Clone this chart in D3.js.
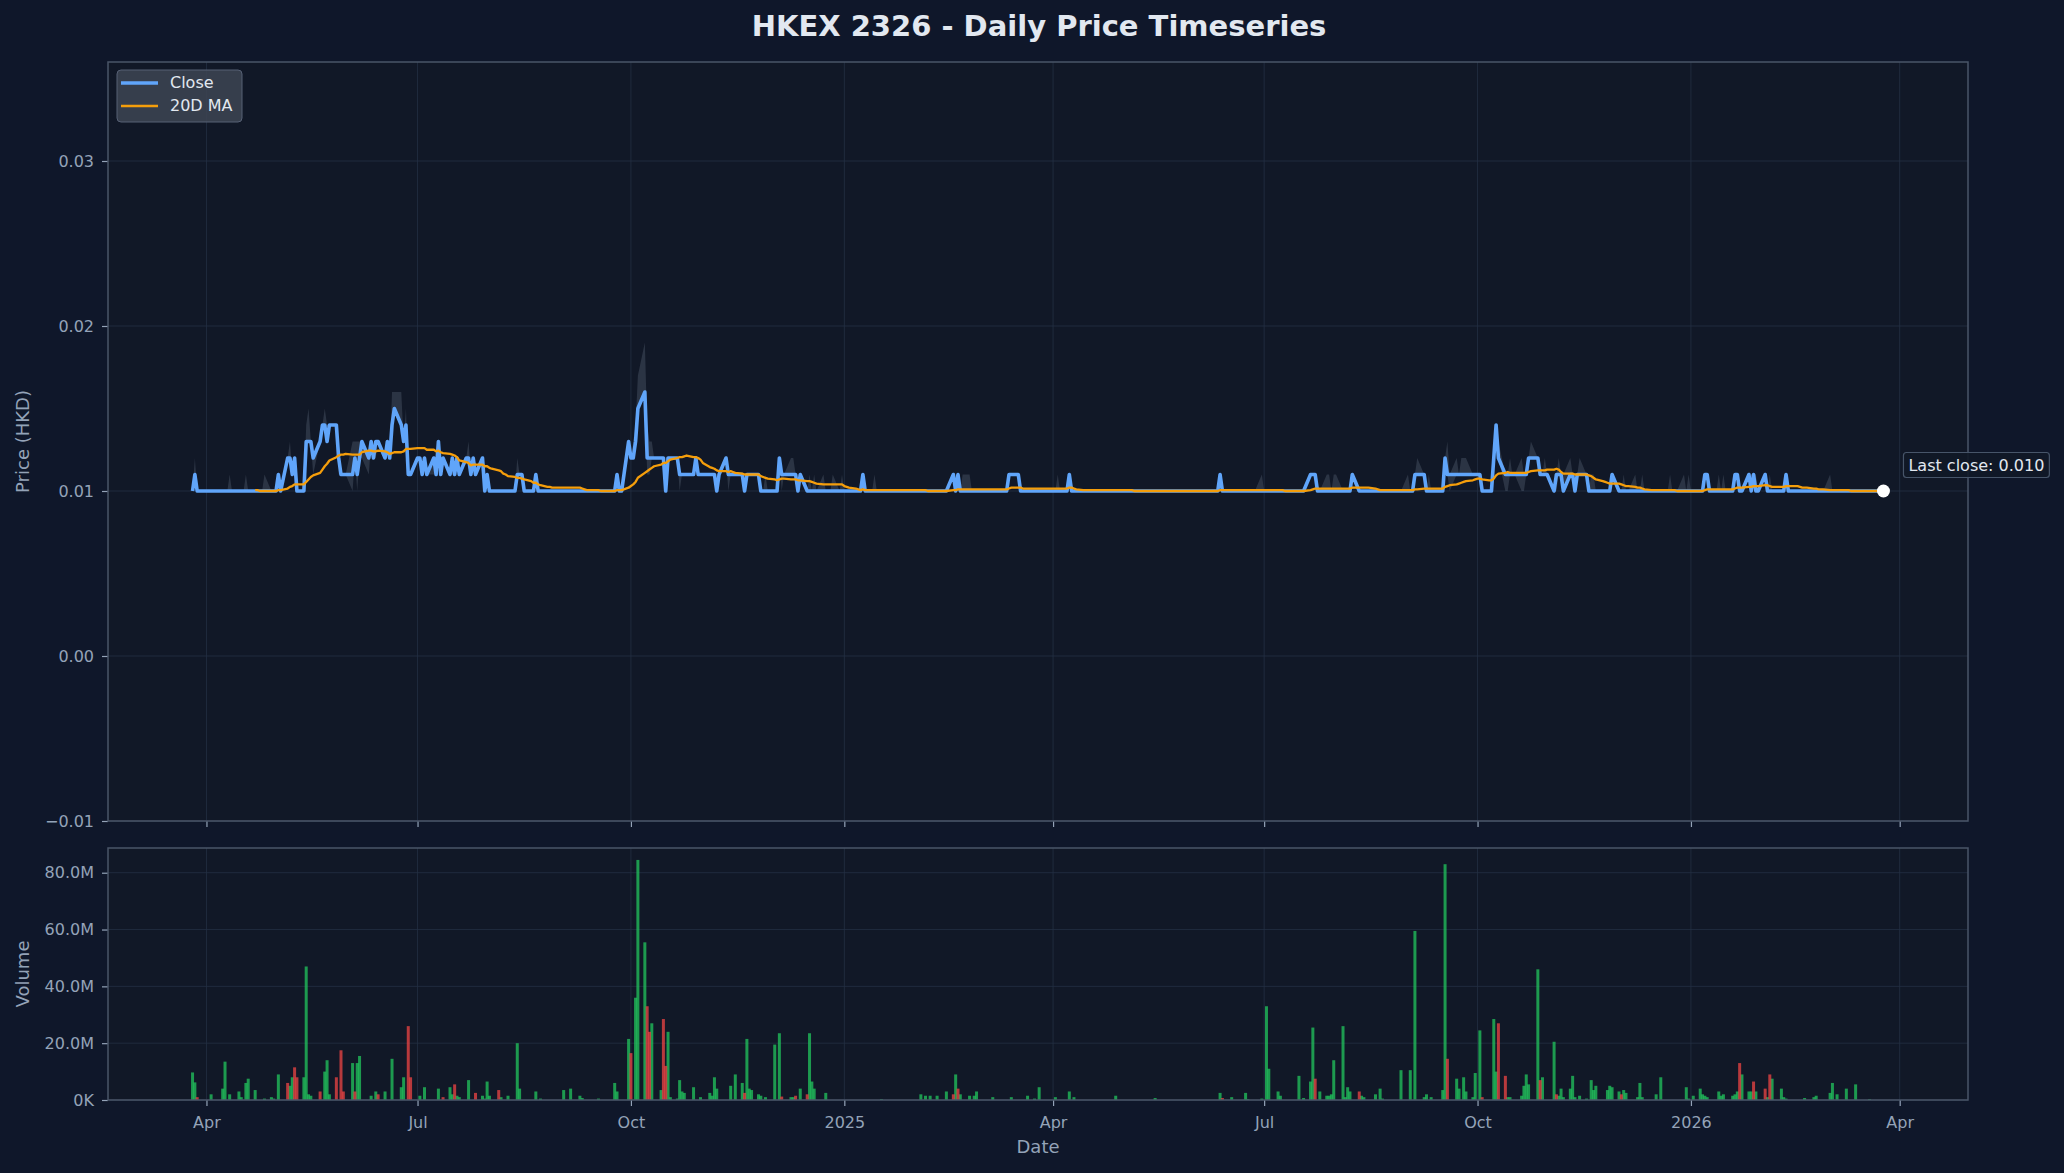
<!DOCTYPE html>
<html><head><meta charset="utf-8">
<script src="https://cdn.jsdelivr.net/npm/d3@7"></script>
<style>
html,body{margin:0;padding:0;background:#0f172a;}
svg{display:block}
text{font-family:"DejaVu Sans",sans-serif}
</style></head>
<body><svg id="chart" width="2064" height="1173"></svg>
<script>
// ---------------- DATA ----------------
const firstDay = "2024-03-26";
const lastDay = "2026-03-25";
// close price change points [date, close HKD] (value holds until next change)
const closeSteps = [
["2024-03-26",0.010],["2024-03-27",0.011],["2024-03-28",0.010],
["2024-05-02",0.011],["2024-05-03",0.010],["2024-05-06",0.012],["2024-05-08",0.011],["2024-05-09",0.012],["2024-05-10",0.010],
["2024-05-14",0.013],["2024-05-17",0.012],["2024-05-20",0.013],["2024-05-21",0.014],["2024-05-23",0.013],["2024-05-24",0.014],
["2024-05-28",0.012],["2024-05-29",0.011],["2024-06-04",0.012],["2024-06-05",0.011],["2024-06-06",0.012],["2024-06-07",0.013],
["2024-06-10",0.012],["2024-06-11",0.013],["2024-06-12",0.012],["2024-06-13",0.013],["2024-06-17",0.012],["2024-06-18",0.013],
["2024-06-19",0.012],["2024-06-20",0.014],["2024-06-21",0.015],["2024-06-24",0.014],["2024-06-25",0.013],["2024-06-26",0.014],
["2024-06-27",0.011],["2024-07-01",0.012],["2024-07-03",0.011],["2024-07-04",0.012],["2024-07-05",0.011],["2024-07-08",0.012],
["2024-07-09",0.011],["2024-07-10",0.013],["2024-07-11",0.011],["2024-07-12",0.012],["2024-07-15",0.011],["2024-07-16",0.012],
["2024-07-17",0.011],["2024-07-18",0.012],["2024-07-19",0.011],["2024-07-22",0.012],["2024-07-24",0.011],["2024-07-25",0.012],
["2024-07-26",0.011],["2024-07-29",0.012],["2024-07-30",0.010],["2024-07-31",0.011],["2024-08-01",0.010],["2024-08-13",0.011],
["2024-08-16",0.010],["2024-08-21",0.011],["2024-08-22",0.010],["2024-09-25",0.011],["2024-09-26",0.010],["2024-09-30",0.013],
["2024-10-01",0.012],["2024-10-03",0.013],["2024-10-04",0.015],["2024-10-07",0.016],["2024-10-08",0.012],["2024-10-16",0.010],
["2024-10-17",0.012],["2024-10-22",0.011],["2024-10-29",0.012],["2024-10-30",0.011],["2024-11-07",0.010],["2024-11-08",0.011],
["2024-11-11",0.012],["2024-11-12",0.011],["2024-11-19",0.010],["2024-11-20",0.011],["2024-11-26",0.010],["2024-12-04",0.012],
["2024-12-05",0.011],["2024-12-12",0.010],["2024-12-13",0.011],["2024-12-16",0.010],
["2025-01-09",0.011],["2025-01-10",0.010],["2025-02-17",0.011],["2025-02-18",0.010],["2025-02-19",0.011],["2025-02-20",0.010],
["2025-03-13",0.011],["2025-03-18",0.010],["2025-04-08",0.011],["2025-04-09",0.010],["2025-06-12",0.011],["2025-06-13",0.010],
["2025-07-21",0.011],["2025-07-24",0.010],["2025-08-08",0.011],["2025-08-11",0.010],["2025-09-04",0.011],["2025-09-09",0.010],
["2025-09-17",0.012],["2025-09-18",0.011],["2025-10-03",0.010],["2025-10-08",0.012],["2025-10-09",0.014],["2025-10-10",0.012],
["2025-10-13",0.011],["2025-10-23",0.012],["2025-10-28",0.011],["2025-11-03",0.010],["2025-11-04",0.011],["2025-11-07",0.010],
["2025-11-10",0.011],["2025-11-12",0.010],["2025-11-13",0.011],["2025-11-18",0.010],["2025-11-28",0.011],["2025-12-01",0.010],
["2026-01-07",0.011],["2026-01-09",0.010],["2026-01-20",0.011],["2026-01-22",0.010],["2026-01-26",0.011],["2026-01-27",0.010],
["2026-01-28",0.011],["2026-01-29",0.010],["2026-02-02",0.011],["2026-02-03",0.010],["2026-02-11",0.011],["2026-02-12",0.010]
];
// daily highs above close [date, high]
const highs = [
["2024-03-27",0.012],["2024-04-11",0.011],["2024-04-18",0.011],["2024-04-26",0.011],["2024-05-02",0.011],["2024-05-07",0.013],
["2024-05-14",0.014],["2024-05-15",0.015],["2024-05-22",0.015],["2024-05-23",0.014],["2024-05-27",0.014],["2024-06-03",0.013],
["2024-06-04",0.013],["2024-06-05",0.013],["2024-06-06",0.013],["2024-06-20",0.016],["2024-06-21",0.016],["2024-06-24",0.016],
["2024-06-26",0.015],["2024-07-10",0.013],["2024-07-23",0.013],["2024-08-13",0.012],["2024-09-30",0.013],["2024-10-02",0.013],
["2024-10-03",0.014],["2024-10-04",0.017],["2024-10-07",0.019],["2024-10-08",0.014],["2024-10-09",0.013],["2024-10-10",0.013],
["2024-10-14",0.012],["2024-10-15",0.012],["2024-11-11",0.012],["2024-11-28",0.011],["2024-12-04",0.012],["2024-12-09",0.012],
["2024-12-10",0.012],["2024-12-17",0.011],["2024-12-19",0.011],["2024-12-23",0.011],["2024-12-27",0.011],["2024-12-31",0.011],
["2025-01-14",0.011],["2025-02-21",0.011],["2025-02-24",0.011],["2025-04-03",0.011],["2025-06-30",0.011],["2025-07-28",0.011],
["2025-07-29",0.011],["2025-07-31",0.011],["2025-08-01",0.011],["2025-09-01",0.011],["2025-09-05",0.012],["2025-09-10",0.011],
["2025-09-18",0.013],["2025-09-22",0.012],["2025-09-24",0.012],["2025-09-25",0.012],["2025-09-26",0.012],["2025-10-09",0.014],
["2025-10-10",0.013],["2025-10-15",0.012],["2025-10-20",0.012],["2025-10-24",0.013],["2025-10-30",0.012],["2025-11-05",0.012],
["2025-11-07",0.011],["2025-11-10",0.012],["2025-11-14",0.012],["2025-11-17",0.011],["2025-11-19",0.011],["2025-11-20",0.011],
["2025-12-03",0.011],["2025-12-08",0.011],["2025-12-11",0.011],["2025-12-23",0.011],["2025-12-29",0.011],["2025-12-31",0.011],
["2026-01-13",0.011],["2026-01-15",0.011],["2026-01-27",0.011],["2026-01-29",0.011],["2026-02-04",0.011],["2026-03-02",0.011]
];
// daily lows below close [date, low]
const lows = [
["2024-05-17",0.011],["2024-05-28",0.011],["2024-06-03",0.010],["2024-06-05",0.010],["2024-06-07",0.012],["2024-06-10",0.011],
["2024-06-13",0.012],["2024-06-27",0.011],["2024-07-08",0.011],["2024-07-16",0.011],["2024-10-08",0.011],["2024-10-09",0.011],
["2024-10-22",0.010],["2024-11-12",0.010],["2024-12-05",0.010],["2025-09-19",0.010],["2025-10-13",0.010],["2025-10-14",0.010],
["2025-10-20",0.010],["2025-10-21",0.010],["2025-11-04",0.010]
];
// volume in millions of shares, up days (green) and down days (red)
const volUp = [
["2024-03-26",9.7],["2024-03-27",6.2],["2024-04-03",2.0],["2024-04-08",4.0],["2024-04-09",13.5],["2024-04-11",2.0],["2024-04-15",3.0],
["2024-04-16",1.0],["2024-04-18",6.0],["2024-04-19",7.5],["2024-04-22",3.5],["2024-04-26",0.5],["2024-04-29",1.0],["2024-04-30",0.5],
["2024-05-02",9.0],["2024-05-07",5.0],["2024-05-08",8.0],["2024-05-13",8.0],["2024-05-14",47.0],["2024-05-15",2.0],["2024-05-16",1.5],
["2024-05-22",10.0],["2024-05-23",14.0],["2024-05-24",2.0],["2024-06-03",13.0],["2024-06-05",13.0],["2024-06-06",15.5],["2024-06-11",1.5],
["2024-06-13",3.0],["2024-06-17",3.0],["2024-06-20",14.5],["2024-06-24",4.5],["2024-06-25",8.0],["2024-07-02",1.5],["2024-07-04",4.5],
["2024-07-10",4.0],["2024-07-15",4.5],["2024-07-16",2.0],["2024-07-18",1.5],["2024-07-19",1.0],["2024-07-23",7.0],["2024-07-29",1.5],
["2024-07-30",0.5],["2024-07-31",6.5],["2024-08-01",1.5],["2024-08-06",1.0],["2024-08-09",1.5],["2024-08-13",20.0],["2024-08-14",4.0],
["2024-08-21",3.0],["2024-08-23",0.5],["2024-09-02",3.5],["2024-09-05",4.0],["2024-09-09",1.5],["2024-09-10",0.7],["2024-09-17",0.5],
["2024-09-24",6.0],["2024-09-25",3.0],["2024-09-30",21.5],["2024-10-03",36.0],["2024-10-04",84.5],["2024-10-07",55.5],["2024-10-10",27.0],
["2024-10-14",3.5],["2024-10-17",24.0],["2024-10-18",1.0],["2024-10-21",0.5],["2024-10-22",7.0],["2024-10-23",3.0],["2024-10-24",2.5],
["2024-10-28",4.5],["2024-10-31",1.0],["2024-11-04",2.5],["2024-11-05",1.5],["2024-11-06",8.0],["2024-11-07",4.0],["2024-11-13",5.0],
["2024-11-15",9.0],["2024-11-18",6.0],["2024-11-20",21.5],["2024-11-21",4.0],["2024-11-22",3.5],["2024-11-25",2.0],["2024-11-26",1.5],
["2024-11-28",1.0],["2024-12-02",19.5],["2024-12-04",23.5],["2024-12-09",1.0],["2024-12-10",1.0],["2024-12-13",4.0],["2024-12-17",23.5],
["2024-12-18",6.5],["2024-12-19",4.0],["2024-12-24",2.5],
["2025-01-17",0.3],["2025-02-03",2.0],["2025-02-05",1.5],["2025-02-07",1.5],["2025-02-10",1.5],["2025-02-14",3.0],["2025-02-18",9.0],
["2025-02-20",2.0],["2025-02-24",1.5],["2025-02-26",1.5],["2025-02-27",3.0],["2025-03-06",1.0],["2025-03-14",1.0],["2025-03-21",1.5],
["2025-03-24",0.5],["2025-03-26",4.5],["2025-04-02",1.0],["2025-04-08",3.0],["2025-04-10",1.0],["2025-04-28",1.5],["2025-05-15",0.7],
["2025-06-12",2.5],["2025-06-17",1.0],["2025-06-23",2.5],["2025-06-24",0.3],["2025-06-30",0.5],["2025-07-02",33.0],["2025-07-03",11.0],
["2025-07-07",3.0],["2025-07-08",1.5],["2025-07-16",8.5],["2025-07-18",0.7],["2025-07-21",6.5],["2025-07-22",25.5],["2025-07-25",3.0],
["2025-07-28",1.5],["2025-07-29",1.5],["2025-07-30",2.0],["2025-07-31",14.0],["2025-08-04",26.0],["2025-08-05",1.0],["2025-08-06",4.5],
["2025-08-07",3.0],["2025-08-12",1.5],["2025-08-13",1.0],["2025-08-18",2.0],["2025-08-20",4.0],["2025-08-21",0.5],["2025-08-29",10.5],
["2025-09-02",10.5],["2025-09-04",59.5],["2025-09-08",1.0],["2025-09-09",2.0],["2025-09-11",1.0],["2025-09-16",3.5],["2025-09-17",83.0],
["2025-09-22",7.5],["2025-09-23",4.0],["2025-09-25",8.0],["2025-09-26",3.0],["2025-09-29",1.0],["2025-09-30",9.5],["2025-10-02",24.5],
["2025-10-08",28.5],["2025-10-09",10.0],["2025-10-14",1.0],["2025-10-15",1.0],["2025-10-20",1.5],["2025-10-21",5.0],["2025-10-22",9.0],
["2025-10-23",5.5],["2025-10-27",46.0],["2025-10-29",8.0],["2025-11-03",20.5],["2025-11-05",1.5],["2025-11-06",4.0],["2025-11-07",1.0],
["2025-11-10",4.0],["2025-11-11",8.5],["2025-11-12",1.0],["2025-11-14",1.5],["2025-11-17",0.5],["2025-11-19",7.0],["2025-11-20",3.5],
["2025-11-21",5.0],["2025-11-26",3.5],["2025-11-27",5.0],["2025-11-28",4.5],["2025-12-01",3.0],["2025-12-03",3.5],["2025-12-04",2.5],
["2025-12-09",1.0],["2025-12-10",6.0],["2025-12-11",1.0],["2025-12-17",2.0],["2025-12-19",8.0],["2025-12-30",4.5],["2025-12-31",0.5],
["2026-01-02",1.5],["2026-01-05",4.0],["2026-01-06",2.0],["2026-01-07",1.5],["2026-01-08",1.0],["2026-01-13",3.0],["2026-01-14",1.5],
["2026-01-15",2.0],["2026-01-19",1.5],["2026-01-20",2.0],["2026-01-21",3.0],["2026-01-23",9.0],["2026-01-26",3.0],["2026-01-27",3.0],
["2026-01-29",3.0],["2026-02-03",1.0],["2026-02-05",7.5],["2026-02-09",4.0],["2026-02-10",1.0],["2026-02-11",0.5],["2026-02-19",0.7],
["2026-02-23",1.0],["2026-02-24",1.5],["2026-03-02",2.5],["2026-03-03",6.0],["2026-03-05",2.0],["2026-03-09",4.0],["2026-03-13",5.5],
["2026-03-19",0.3]
];
const volDown = [
["2024-03-28",1.0],["2024-05-06",6.0],["2024-05-09",11.5],["2024-05-10",8.0],["2024-05-20",3.0],["2024-05-27",8.0],["2024-05-29",17.5],
["2024-05-30",3.0],["2024-06-04",3.0],["2024-06-14",2.0],["2024-06-27",26.0],["2024-06-28",8.0],["2024-07-12",1.0],["2024-07-17",5.5],
["2024-07-26",2.5],["2024-08-05",3.5],["2024-10-01",16.5],["2024-10-08",33.0],["2024-10-09",24.0],["2024-10-15",28.5],["2024-10-16",12.0],
["2024-11-19",2.5],["2024-12-05",1.2],["2024-12-11",1.5],["2024-12-16",2.0],
["2025-02-17",2.0],["2025-02-19",4.0],["2025-06-13",0.7],["2025-07-23",7.5],["2025-08-11",3.0],["2025-09-18",14.5],["2025-10-03",1.0],
["2025-10-10",27.0],["2025-10-13",8.5],["2025-10-28",7.0],["2025-11-04",2.0],["2025-12-02",2.0],
["2026-01-22",13.0],["2026-01-28",6.5],["2026-02-02",4.0],["2026-02-04",9.0]
];
const priceTicks = [-0.01, 0.00, 0.01, 0.02, 0.03];
const volumeTicks = [0, 20, 40, 60, 80];
const maWindow = 20;

// ---------------- BUILD ----------------
const parse = d3.utcParse("%Y-%m-%d");
const fmtKey = d3.utcFormat("%Y-%m-%d");
const days = d3.utcDay.range(parse(firstDay), d3.utcDay.offset(parse(lastDay), 1))
  .filter(d => d.getUTCDay() !== 0 && d.getUTCDay() !== 6);
const stepMap = new Map(closeSteps);
const highMap = new Map(highs);
const lowMap = new Map(lows);
let cur = closeSteps[0][1];
const series = days.map(d => {
  const k = fmtKey(d);
  if (stepMap.has(k)) cur = stepMap.get(k);
  const hi = Math.max(cur, highMap.has(k) ? highMap.get(k) : cur);
  const lo = Math.min(cur, lowMap.has(k) ? lowMap.get(k) : cur);
  return {date: d, close: cur, high: hi, low: lo};
});
series.forEach((p, i) => {
  if (i >= maWindow - 1) p.ma = d3.mean(series.slice(i - maWindow + 1, i + 1), s => s.close);
});
const bars = volUp.map(v => ({date: parse(v[0]), vol: v[1] * 1e6, up: true}))
  .concat(volDown.map(v => ({date: parse(v[0]), vol: v[1] * 1e6, up: false})));

// ---------------- LAYOUT ----------------
const W = 2064, H = 1173;
const L = 108, R = 1968;
const pTop = 62, pBot = 821, vTop = 848, vBot = 1100;
const svg = d3.select("#chart");
svg.append("rect").attr("width", W).attr("height", H).attr("fill", "#0f172a");

const t0 = days[0], t1 = days[days.length - 1];
const span = t1 - t0;
const x = d3.scaleUtc().domain([new Date(+t0 - span * 0.05), new Date(+t1 + span * 0.05)]).range([L, R]);
const yP = d3.scaleLinear().domain([-0.01, 0.036]).range([pBot, pTop]);
const yV = d3.scaleLinear().domain([0, 88.7e6]).range([vBot, vTop]);

const xTicks = x.ticks(d3.utcMonth.every(3));
const xFmt = d => d.getUTCMonth() === 0 ? d3.utcFormat("%Y")(d) : d3.utcFormat("%b")(d);

const gridCol = "#243044", spineCol = "#4a5568", tickTxt = "#94a3b8";

function panel(top, bot, yScale, yTicks, yFmt, showXLabels) {
  const g = svg.append("g");
  g.append("rect").attr("x", L).attr("y", top).attr("width", R - L).attr("height", bot - top).attr("fill", "#111827");
  g.selectAll(".vg").data(xTicks).join("line")
    .attr("x1", d => x(d)).attr("x2", d => x(d)).attr("y1", top).attr("y2", bot)
    .attr("stroke", gridCol).attr("stroke-width", 1).attr("opacity", 0.8);
  g.selectAll(".hg").data(yTicks).join("line")
    .attr("x1", L).attr("x2", R).attr("y1", d => yScale(d)).attr("y2", d => yScale(d))
    .attr("stroke", gridCol).attr("stroke-width", 1).attr("opacity", 0.8);
  const ya = g.append("g").attr("transform", `translate(${L},0)`)
    .call(d3.axisLeft(yScale).tickValues(yTicks).tickFormat(yFmt).tickSize(6).tickPadding(8));
  const xa = g.append("g").attr("transform", `translate(0,${bot})`)
    .call(d3.axisBottom(x).tickValues(xTicks).tickFormat(showXLabels ? xFmt : () => "").tickSize(6).tickPadding(11));
  [ya, xa].forEach(a => {
    a.select(".domain").remove();
    a.selectAll("line").attr("stroke", "#94a3b8").attr("stroke-width", 1.2);
    a.selectAll("text").attr("fill", tickTxt).attr("font-size", 16).attr("font-family", "DejaVu Sans");
  });
  return g;
}

// ---- price panel ----
const gp = panel(pTop, pBot, yP, priceTicks, d3.format(".2f"), false);
svg.append("clipPath").attr("id", "pc").append("rect").attr("x", L).attr("y", pTop).attr("width", R - L).attr("height", pBot - pTop);
const plot = svg.append("g").attr("clip-path", "url(#pc)");
plot.append("path").datum(series)
  .attr("d", d3.area().x(d => x(d.date)).y0(d => yP(d.low)).y1(d => yP(d.high)))
  .attr("fill", "#94a3b8").attr("opacity", 0.2);
plot.append("path").datum(series)
  .attr("d", d3.line().x(d => x(d.date)).y(d => yP(d.close)))
  .attr("fill", "none").attr("stroke", "#60a5fa").attr("stroke-width", 3.6).attr("stroke-linejoin", "round");
plot.append("path").datum(series.filter(d => d.ma !== undefined))
  .attr("d", d3.line().x(d => x(d.date)).y(d => yP(d.ma)))
  .attr("fill", "none").attr("stroke", "#f59e0b").attr("stroke-width", 2.3).attr("stroke-linejoin", "round");
svg.append("rect").attr("x", L).attr("y", pTop).attr("width", R - L).attr("height", pBot - pTop)
  .attr("fill", "none").attr("stroke", spineCol).attr("stroke-width", 1.5);

const last = series[series.length - 1];
svg.append("circle").attr("cx", x(last.date)).attr("cy", yP(last.close)).attr("r", 6.5).attr("fill", "#ffffff");
const ann = svg.append("g");
const annText = ann.append("text").attr("x", x(last.date) + 25).attr("y", yP(last.close) - 25)
  .attr("fill", "#e2e8f0").attr("font-size", 16).attr("dominant-baseline", "middle")
  .text("Last close: " + d3.format(".3f")(last.close));
const bb = annText.node().getBBox();
ann.insert("rect", "text").attr("x", bb.x - 5).attr("y", bb.y - 3).attr("width", bb.width + 10).attr("height", bb.height + 6)
  .attr("rx", 3).attr("fill", "#111827").attr("fill-opacity", 0.9).attr("stroke", "#475569").attr("stroke-width", 1.2);

// legend
const lg = svg.append("g");
lg.append("rect").attr("x", 117).attr("y", 70).attr("width", 125).attr("height", 52).attr("rx", 4)
  .attr("fill", "#3b4351").attr("fill-opacity", 0.9).attr("stroke", "#566074").attr("stroke-width", 1);
[["Close", "#60a5fa", 3.6, 83], ["20D MA", "#f59e0b", 2.3, 106]].forEach(([t, c, w, yy]) => {
  lg.append("line").attr("x1", 121).attr("x2", 158).attr("y1", yy).attr("y2", yy).attr("stroke", c).attr("stroke-width", w);
  lg.append("text").attr("x", 170).attr("y", yy).attr("dominant-baseline", "middle")
    .attr("fill", "#e2e8f0").attr("font-size", 16).text(t);
});

// ---- volume panel ----
const gv = panel(vTop, vBot, yV, volumeTicks.map(v => v * 1e6), v => v === 0 ? "0K" : d3.format(".1f")(v / 1e6) + "M", true);
const bw = 3;
svg.append("g").selectAll("rect").data(bars).join("rect")
  .attr("x", d => x(d.date) - bw / 2).attr("width", bw)
  .attr("y", d => yV(d.vol)).attr("height", d => vBot - yV(d.vol))
  .attr("fill", d => d.up ? "#22c55e" : "#ef4444").attr("opacity", 0.75);
svg.append("rect").attr("x", L).attr("y", vTop).attr("width", R - L).attr("height", vBot - vTop)
  .attr("fill", "none").attr("stroke", spineCol).attr("stroke-width", 1.5);

// ---- labels ----
svg.append("text").attr("x", (L + R) / 2 + 1).attr("y", 28).attr("text-anchor", "middle").attr("dominant-baseline", "middle")
  .attr("fill", "#e2e8f0").attr("font-size", 29).attr("font-weight", "bold").text("HKEX 2326 - Daily Price Timeseries");
svg.append("text").attr("transform", `translate(24,${(pTop + pBot) / 2}) rotate(-90)`).attr("text-anchor", "middle")
  .attr("dominant-baseline", "middle").attr("fill", tickTxt).attr("font-size", 18).text("Price (HKD)");
svg.append("text").attr("transform", `translate(24,${(vTop + vBot) / 2}) rotate(-90)`).attr("text-anchor", "middle")
  .attr("dominant-baseline", "middle").attr("fill", tickTxt).attr("font-size", 18).text("Volume");
svg.append("text").attr("x", (L + R) / 2).attr("y", 1148).attr("text-anchor", "middle").attr("dominant-baseline", "middle")
  .attr("fill", tickTxt).attr("font-size", 18).text("Date");
</script>
</body></html>
